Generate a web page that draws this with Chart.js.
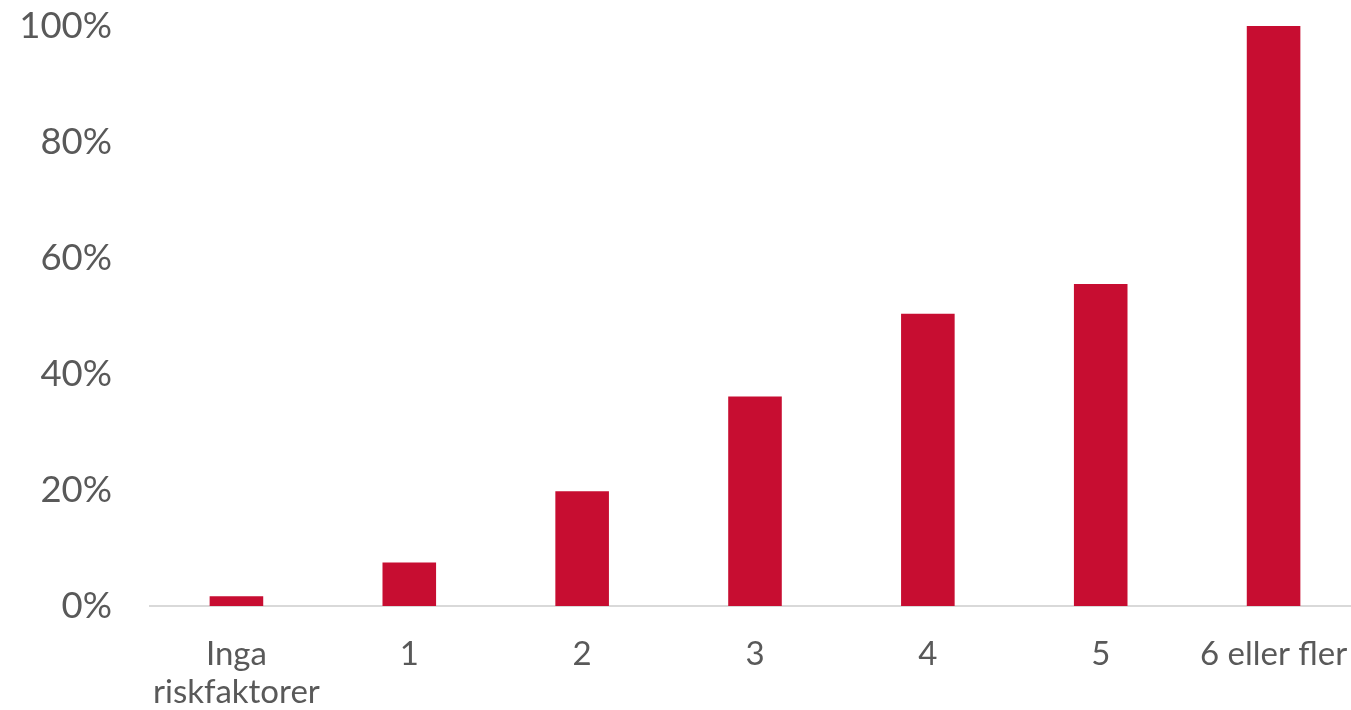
<!DOCTYPE html>
<html>
<head>
<meta charset="utf-8">
<script src="https://cdn.jsdelivr.net/npm/chart.js@4"></script>
<style>
  html, body { margin: 0; padding: 0; background: #fff; overflow: hidden; }
  #wrap { width: 1360px; height: 710px; position: relative; }
</style>
</head>
<body>
<div id="wrap"><canvas id="c"></canvas></div>
<script>
const categories = [["Inga", "riskfaktorer"], "1", "2", "3", "4", "5", "6 eller fler"];
const values = [1.7, 7.5, 19.8, 36.1, 50.4, 55.5, 100];
const yTicks = [0, 20, 40, 60, 80, 100];

const FONT = "Lato, 'Open Sans', sans-serif";
new Chart(document.getElementById('c'), {
  type: 'bar',
  data: {
    labels: categories,
    datasets: [{
      data: values,
      backgroundColor: '#C70D31',
      borderWidth: 0,
      barPercentage: 0.62,
      categoryPercentage: 0.5
    }]
  },
  options: {
    responsive: true,
    maintainAspectRatio: false,
    animation: false,
    layout: { padding: { top: 26, right: 0, left: 0, bottom: 0 } },
    plugins: { legend: { display: false }, tooltip: { enabled: false } },
    scales: {
      x: {
        grid: { display: false, drawTicks: false },
        border: { color: '#D9D9D9', width: 2 },
        ticks: { color: '#595959', font: { family: FONT, size: 33, lineHeight: 1.15 }, padding: 29, maxRotation: 0, autoSkip: false },
        afterFit: (s) => { s.height = 104; s.paddingLeft = 0; s.paddingRight = 0; }
      },
      y: {
        min: 0, max: 100,
        afterBuildTicks: (s) => { s.ticks = yTicks.map(v => ({ value: v })); },
        grid: { display: false, drawTicks: false },
        border: { display: false },
        ticks: { color: '#595959', font: { family: FONT, size: 36.5 }, padding: 38, callback: (v) => v + '%' },
        afterFit: (s) => { s.width = 150; s.paddingTop = 0; s.paddingBottom = 0; }
      }
    }
  }
});
</script>
</body>
</html>
